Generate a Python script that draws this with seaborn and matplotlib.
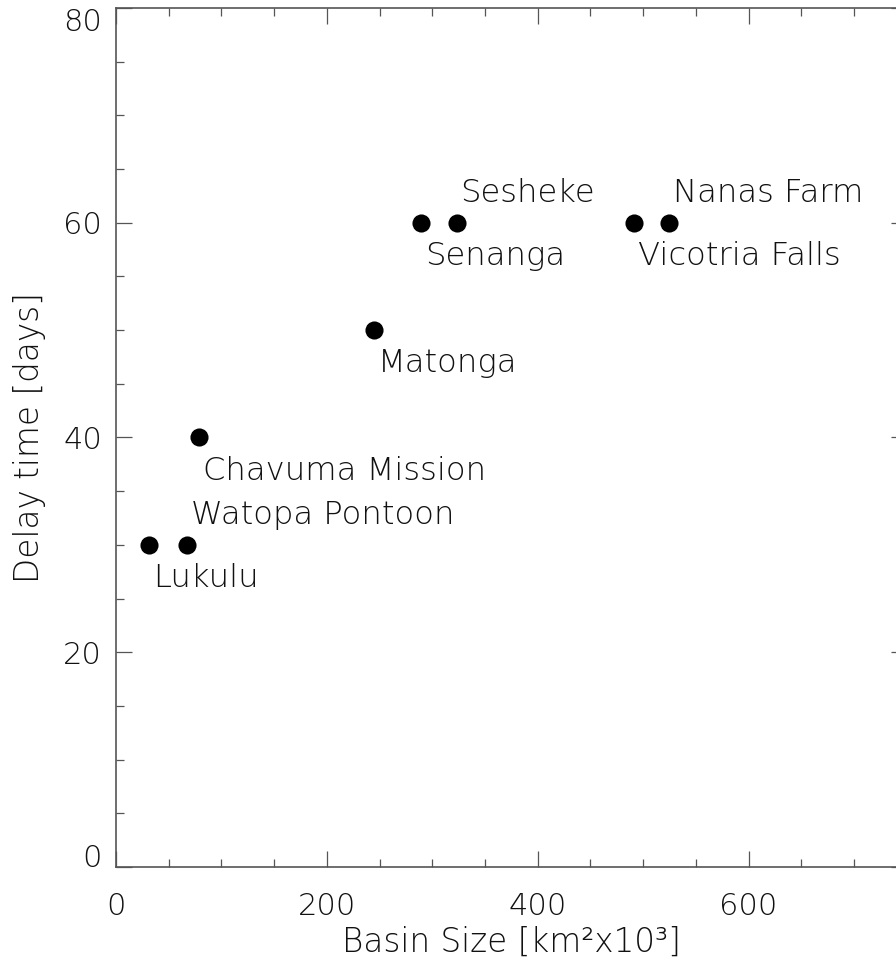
import matplotlib
matplotlib.use("Agg")
import matplotlib.pyplot as plt
import seaborn as sns
import pandas as pd
from matplotlib.ticker import MultipleLocator

stations = ["Lukulu", "Watopa Pontoon", "Chavuma Mission", "Matonga",
            "Senanga", "Sesheke", "Vicotria Falls", "Nanas Farm"]
basin_size = [31, 67, 79, 245, 289, 323, 491, 525]
delay_days = [30, 30, 40, 50, 60, 60, 60, 60]
label_side = ["below", "above", "below", "below", "below", "above", "below", "above"]

x_ticks = [0, 200, 400, 600]
y_ticks = [0, 20, 40, 60, 80]

df = pd.DataFrame({"station": stations, "size": basin_size, "delay": delay_days})

sns.set_style("ticks")
plt.rcParams['font.family'] = ['DejaVu Sans']

DPI = 100
fig = plt.figure(figsize=(8.96, 9.63), dpi=DPI)
ax = fig.add_axes([116 / 896, 96 / 963, (906.7 - 116) / 896, (867 - 8) / 963])

sns.scatterplot(data=df, x="size", y="delay", ax=ax, color="black",
                s=170, edgecolor="black", linewidth=0, legend=False, zorder=3)

for name, xv, yv, side in zip(stations, basin_size, delay_days, label_side):
    dy = 30 if side == "above" else -33
    ax.annotate(name, (xv, yv), xytext=(4, dy), textcoords="offset pixels",
                ha="left", va="center", fontsize=23.2, color="#111111",
                fontweight="light")

ax.set_xlim(0, 750)
ax.set_ylim(0, 80)
ax.set_xticks(x_ticks)
ax.set_yticks(y_ticks)
ax.xaxis.set_minor_locator(MultipleLocator(50))
ax.yaxis.set_minor_locator(MultipleLocator(5))

spine_c = "#555555"
for sp in ax.spines.values():
    sp.set_visible(True)
    sp.set_color(spine_c)
    sp.set_linewidth(1.2)

ax.tick_params(which="both", direction="in", top=True, right=True,
               color=spine_c, width=0.9)
ax.tick_params(which="major", length=11.5, labelsize=22, labelcolor="#111111")
ax.tick_params(which="minor", length=5.8)
ax.tick_params(axis="x", which="major", pad=18)
ax.tick_params(axis="y", which="major", pad=10)

for lab in ax.get_xticklabels() + ax.get_yticklabels():
    lab.set_fontweight("light")

yt = ax.yaxis.get_major_ticks()
yt[0].label1.set_va("baseline")
yt[-1].label1.set_va("top")

ax.set_xlabel("Basin Size [km²x10³]", fontsize=23.5, color="#111111",
              fontweight="light")
ax.set_ylabel("Delay time [days]", fontsize=23.5, color="#111111",
              fontweight="light")
ax.xaxis.set_label_coords(0.5, -0.068)
ax.yaxis.set_label_coords(-0.088, 0.5)

fig.savefig("out.png", dpi=DPI)
